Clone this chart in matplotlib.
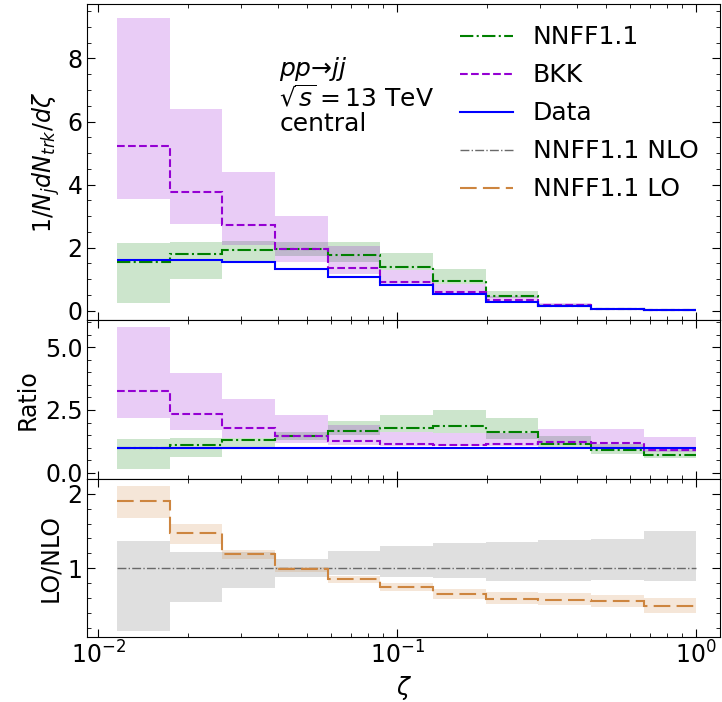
import numpy as np
import matplotlib
matplotlib.use("Agg")
import matplotlib.pyplot as plt
from matplotlib.ticker import AutoMinorLocator

# bin edges in zeta
edges = [0.01156, 0.01734, 0.02601, 0.03902, 0.05853, 0.08779,
         0.1317, 0.1975, 0.2963, 0.4444, 0.6667, 1.0]

# top panel: 1/N_j dN_trk/dzeta
data = [1.60, 1.61, 1.53, 1.33, 1.07, 0.80, 0.53, 0.29, 0.14, 0.05, 0.015]
nnff = [1.55, 1.80, 1.94, 1.95, 1.76, 1.40, 0.93, 0.46, 0.16, 0.05, 0.012]
nnff_lo = [0.25, 1.00, 1.55, 1.72, 1.55, 1.30, 0.84, 0.39, 0.13, 0.04, 0.009]
nnff_hi = [2.14, 2.19, 2.20, 2.17, 2.17, 1.84, 1.31, 0.64, 0.20, 0.06, 0.016]
bkk = [5.22, 3.76, 2.71, 1.95, 1.34, 0.92, 0.59, 0.34, 0.17, 0.06, 0.014]
bkk_lo = [3.53, 2.75, 2.08, 1.53, 1.16, 0.84, 0.56, 0.32, 0.15, 0.05, 0.012]
bkk_hi = [9.27, 6.39, 4.39, 3.00, 2.04, 1.30, 0.84, 0.45, 0.23, 0.09, 0.022]

# middle panel: ratio to data
r_data = [1.0] * 11
r_nnff = [0.98, 1.12, 1.30, 1.47, 1.66, 1.78, 1.85, 1.62, 1.16, 0.92, 0.69]
r_nnff_lo = [0.16, 0.62, 1.00, 1.29, 1.51, 1.62, 1.58, 1.36, 0.98, 0.76, 0.60]
r_nnff_hi = [1.36, 1.38, 1.38, 1.63, 2.05, 2.31, 2.48, 2.19, 1.45, 1.16, 1.02]
r_bkk = [3.25, 2.35, 1.79, 1.46, 1.28, 1.16, 1.12, 1.16, 1.21, 1.18, 0.89]
r_bkk_lo = [2.19, 1.71, 1.38, 1.18, 1.09, 1.05, 1.05, 1.08, 1.10, 1.02, 0.82]
r_bkk_hi = [5.81, 3.99, 2.92, 2.28, 1.91, 1.62, 1.58, 1.58, 1.73, 1.73, 1.42]

# bottom panel: LO / NLO
nlo = [1.0] * 11
nlo_lo = [0.17, 0.55, 0.74, 0.89, 0.91, 0.88, 0.875, 0.83, 0.83, 0.84, 0.83]
nlo_hi = [1.37, 1.22, 1.22, 1.12, 1.23, 1.30, 1.34, 1.355, 1.38, 1.39, 1.50]
lo = [1.90, 1.47, 1.19, 0.99, 0.86, 0.75, 0.66, 0.59, 0.58, 0.56, 0.50]
lo_lo = [1.67, 1.33, 1.12, 0.95, 0.81, 0.70, 0.59, 0.52, 0.51, 0.49, 0.41]
lo_hi = [2.10, 1.59, 1.24, 1.02, 0.90, 0.80, 0.73, 0.68, 0.67, 0.65, 0.60]

plt.rcParams['font.size'] = 17
plt.rcParams['mathtext.fontset'] = 'dejavusans'

fig = plt.figure(figsize=(7.22, 7.02), dpi=100)
gs = fig.add_gridspec(3, 1, height_ratios=[2, 1, 1], hspace=0,
                      left=0.121, right=0.997, bottom=0.093, top=0.994)
ax1 = fig.add_subplot(gs[0])
ax2 = fig.add_subplot(gs[1], sharex=ax1)
ax3 = fig.add_subplot(gs[2], sharex=ax1)

c_nnff = 'green'
c_bkk = 'darkviolet'
c_data = 'blue'
c_nlo = 'dimgray'
c_lo = 'peru'
lo_style = (0, (8, 3))

# top
ax1.stairs(nnff_hi, edges, baseline=nnff_lo, fill=True, color=c_nnff, alpha=0.2, lw=0)
ax1.stairs(bkk_hi, edges, baseline=bkk_lo, fill=True, color=c_bkk, alpha=0.2, lw=0)
ax1.stairs(nnff, edges, baseline=None, color=c_nnff, ls='-.', lw=1.5, label='NNFF1.1')
ax1.stairs(bkk, edges, baseline=None, color=c_bkk, ls='--', lw=1.5, label='BKK')
ax1.stairs(data, edges, baseline=None, color=c_data, ls='-', lw=1.5, label='Data')
# legend-only entries for bottom panel curves
ax1.plot([], [], color=c_nlo, ls='-.', lw=1.0, label='NNFF1.1 NLO')
ax1.plot([], [], color=c_lo, ls=lo_style, lw=1.5, label='NNFF1.1 LO')
ax1.set_ylim(-0.31, 9.72)
ax1.set_ylabel(r'$1/N_{j}dN_{trk}/d\zeta$')
ax1.text(0.0403, 8.1, r'$pp$→$jj$' + '\n' + r'$\sqrt{s}=13$ TeV' + '\ncentral',
         fontsize=18, va='top', ha='left', linespacing=1.05)
ax1.legend(loc='upper right', frameon=False, fontsize=18, handlelength=2.1,
           borderaxespad=0.45, labelspacing=0.56)

# middle
ax2.stairs(r_nnff_hi, edges, baseline=r_nnff_lo, fill=True, color=c_nnff, alpha=0.2, lw=0)
ax2.stairs(r_bkk_hi, edges, baseline=r_bkk_lo, fill=True, color=c_bkk, alpha=0.2, lw=0)
ax2.stairs(r_nnff, edges, baseline=None, color=c_nnff, ls='-.', lw=1.5)
ax2.stairs(r_bkk, edges, baseline=None, color=c_bkk, ls='--', lw=1.5)
ax2.stairs(r_data, edges, baseline=None, color=c_data, ls='-', lw=1.5)
ax2.set_ylim(-0.23, 6.06)
ax2.set_yticks([0.0, 2.5, 5.0])
ax2.set_ylabel('Ratio')

# bottom
ax3.stairs(nlo_hi, edges, baseline=nlo_lo, fill=True, color='gray', alpha=0.25, lw=0)
ax3.stairs(lo_hi, edges, baseline=lo_lo, fill=True, color=c_lo, alpha=0.2, lw=0)
ax3.stairs(nlo, edges, baseline=None, color=c_nlo, ls='-.', lw=1.0)
ax3.stairs(lo, edges, baseline=None, color=c_lo, ls=lo_style, lw=1.5)
ax3.set_ylim(0.088, 2.2)
ax3.set_yticks([1, 2])
ax3.set_ylabel('LO/NLO')

ax3.set_xscale('log')
ax3.set_xlim(0.0092, 1.2)
ax3.set_xlabel(r'$\zeta$')

for ax in (ax1, ax2, ax3):
    ax.yaxis.set_minor_locator(AutoMinorLocator())
    ax.tick_params(which='both', direction='in', top=True, right=True)
    ax.tick_params(which='major', length=6)
    ax.tick_params(which='minor', length=3)
for ax in (ax1, ax2):
    plt.setp(ax.get_xticklabels(), visible=False)

fig.savefig('out.png', dpi=100)
